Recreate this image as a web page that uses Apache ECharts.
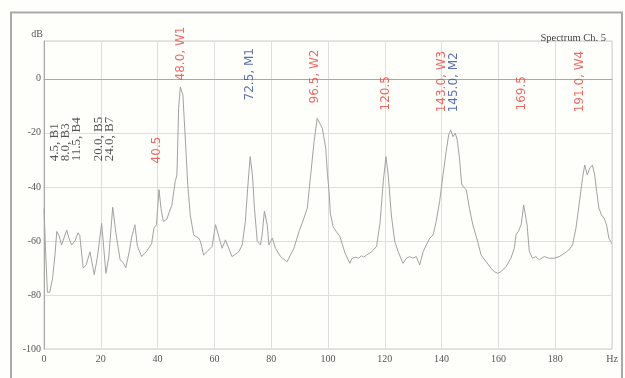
<!DOCTYPE html>
<html>
<head>
<meta charset="utf-8">
<script src="https://cdn.jsdelivr.net/npm/echarts@6/dist/echarts.min.js"></script>
<style>
  html, body { margin: 0; padding: 0; background: #fefefb; }
  #chart { width: 625px; height: 378px; }
</style>
</head>
<body>
<div id="chart"></div>
<script>
// Spectrum trace, channel 5: frequency (Hz) and level (dB)
const freqHz = [
  0, 0.5, 1.2, 2, 3, 3.8, 4.5, 5.3, 6.2, 7, 8, 8.8, 9.7, 10.9, 12, 12.6, 13.8, 14.8, 16.2, 17.7,
  18.8, 20.3, 21.8, 22.8, 24.2, 25.3, 26.8, 27.9, 28.8, 30, 30.9, 32, 32.9, 34.4, 36, 37.9, 38.7, 39.6,
  40.5, 41.2, 42, 43.2, 45, 46.2, 46.8, 47.4, 48, 48.9, 49.8, 50.6, 51.5, 52.7, 54.5, 55.1, 56.2, 57.4,
  59.2, 60.4, 60.9, 62.7, 63.9, 64.5, 66.2, 66.8, 68.6, 69.8, 70.9, 71.8, 72.6, 73.4, 74.1, 75.1, 76.2,
  76.8, 77.6, 78.6, 79.2, 80.4, 81.5, 83.3, 85.6, 86.2, 88, 89.8, 91.5, 92.7, 93.9, 95.1, 96.2, 96.8,
  98, 99.2, 99.8, 100.4, 100.8, 101.8, 102.9, 104.2, 106, 107.7, 108.4, 108.9, 109.8, 110.7, 111.8,
  112.6, 113.6, 115.4, 117.1, 118.3, 119.5, 120.4, 121.2, 122.3, 123.5, 124.7, 126.4, 127.6, 128.8,
  129.9, 131.1, 132.3, 133.5, 134.6, 135.8, 137, 138.1, 139.3, 140.5, 141.6, 142.5, 143.2, 144, 144.8,
  145.5, 146.3, 147.1, 147.8, 148.7, 149.8, 151, 152.7, 153.9, 155.7, 157.4, 158.6, 159.8, 160.9,
  162.7, 164.4, 165.6, 166.2, 167, 168, 168.9, 169.5, 170.1, 170.9, 172, 173.2, 174.4, 176.1, 177.9,
  179.6, 181.4, 183.2, 184.9, 186.1, 187.3, 188.4, 189.6, 190.4, 191.3, 192.2, 193.1, 193.9, 194.6,
  195.4, 196.3, 197.2, 198.1, 198.9, 199.5, 200
];
const levelDb = [
  -48, -62, -79, -79, -74, -66, -56.5, -58, -61.5, -59, -56, -59, -61.5, -60, -57, -58, -70, -69, -64, -72.5,
  -66, -53.5, -72, -66, -47.5, -57, -67, -68, -70, -64, -58.5, -54, -62, -65.8, -64, -61, -55.3, -54,
  -41, -48, -52.8, -52, -46.8, -38, -35.6, -11, -3, -6, -23, -39, -50.4, -57.8, -59, -60.2, -65.2, -64,
  -62, -54, -54.7, -62.7, -59.6, -59, -65.8, -66.4, -64, -61.5, -52.8, -39.3, -28.8, -35.6, -47.9, -60.2, -61.5,
  -57.8, -49, -54, -61.5, -59, -62.7, -65.8, -67.7, -68.3, -62.7, -56.5, -51.6, -47.9, -35.6, -23.2, -14.6, -14,
  -18.3, -25.7, -35, -42, -49.7, -54.7, -56.5, -58.4, -64.5, -68.3, -66.5, -67, -66, -66.4, -65.5,
  -66, -65.2, -64, -62, -53.5, -37.5, -28.8, -35.6, -50.4, -60.2, -64, -68.3, -66.4, -65.8,
  -66.4, -65.8, -68.9, -64, -61.5, -59, -57.8, -52.8, -45.4, -35.6, -26.9, -20.7, -18.9, -21.4, -20.1,
  -22.6, -29.4, -39.3, -39.3, -41.1, -47.9, -54.1, -60.2, -65.2, -67.7, -70.1, -71.4, -72, -71.4,
  -69.5, -66.4, -62.7, -57.8, -56.5, -54.1, -46.7, -47.3, -54.1, -64, -66.4, -65.8, -67, -65.8, -66.4,
  -66.4, -65.8, -64.6, -63.3, -61.5, -55.3, -46.7, -36.8, -31.9, -35.6, -33, -31.9, -35.6, -41.7,
  -47.9, -50.4, -51.6, -54.1, -59, -60.2, -61
];

// Marked components: band lines (B), wave lines (W), mode lines (M)
const bandFreqs = [4.5, 8.0, 11.5, 20.0, 24.0];
const bandNames = ['B1', 'B3', 'B4', 'B5', 'B7'];
const waveFreqs = [40.5, 48.0, 96.5, 120.5, 143.0, 169.5, 191.0];
const waveNames = ['', 'W1', 'W2', '', 'W3', '', 'W4'];
const modeFreqs = [72.5, 145.0];
const modeNames = ['M1', 'M2'];

const chartTitle = 'Spectrum Ch. 5';
const xUnit = 'Hz';
const yUnit = 'dB';

// Label placement (dB level where each vertical label starts, plus a small pixel nudge)
const bandLayout = { baseDb: [-30.5, -30.5, -30.5, -30.5, -30.5], nudge: [-2, -1, 0, -2, -3] };
const waveLayout = { baseDb: [-31.3, -0.6, -9.1, -11.7, -12.4, -11.7, -12.4], nudge: [-2, 1, -3, 0, -8, -4, -7] };
const modeLayout = { baseDb: [-8, -12.4], nudge: [0, -2] };

function labelText(f, name) {
  return f.toFixed(1) + (name ? ', ' + name : '');
}

// Vertical text labels; the offset is in the rotated text frame, so [0, n] moves them sideways
function labelSeries(freqs, names, layout, color, font) {
  return {
    type: 'scatter',
    silent: true,
    symbolSize: 0,
    z: 5,
    data: freqs.map((f, i) => ({
      value: [f, layout.baseDb[i]],
      name: labelText(f, names[i]),
      label: { offset: [0, layout.nudge[i]] }
    })),
    label: {
      show: true,
      position: 'inside',
      rotate: 90,
      align: 'left',
      verticalAlign: 'middle',
      formatter: p => p.name,
      color: color,
      fontFamily: font.family,
      fontSize: font.size
    }
  };
}

const serifAxis = { fontFamily: 'Liberation Serif', fontSize: 10, color: '#555' };

const chart = echarts.init(document.getElementById('chart'), null, { renderer: 'canvas' });
chart.setOption({
  animation: false,
  backgroundColor: '#fefefb',
  title: {
    text: chartTitle,
    right: 14,
    top: 28,
    textStyle: { fontFamily: 'Liberation Serif', fontSize: 10.5, fontWeight: 'normal', color: '#444' }
  },
  graphic: [{
    type: 'rect',
    shape: { x: 11, y: 12.5, width: 611, height: 380 },
    style: { fill: 'none', stroke: '#a9a9a9', lineWidth: 2 },
    silent: true
  }],
  grid: { left: 44, right: 13, top: 41, bottom: 29, show: true, borderColor: '#cfcfcf', borderWidth: 1 },
  xAxis: {
    type: 'value',
    min: 0,
    max: 200,
    interval: 20,
    axisLine: { show: true, lineStyle: { color: '#a8a8a8', width: 1 } },
    axisTick: { show: false },
    axisLabel: {
      ...serifAxis,
      margin: 5,
      formatter: v => (v === 200 ? xUnit : String(v))
    },
    splitLine: { show: true, lineStyle: { color: '#dedede', width: 1 } }
  },
  yAxis: {
    type: 'value',
    min: -100,
    max: 14,
    interval: 20,
    name: yUnit,
    nameLocation: 'end',
    nameGap: 2,
    nameTextStyle: { ...serifAxis, align: 'right', padding: [0, 1, 0, 0] },
    axisLine: { show: true, lineStyle: { color: '#a8a8a8', width: 1 } },
    axisTick: { show: false },
    axisLabel: {
      ...serifAxis,
      margin: 3,
      formatter: v => (v > 0 ? '' : String(v))
    },
    splitLine: { show: true, lineStyle: { color: '#dedede', width: 1 } }
  },
  series: [
    {
      type: 'line',
      data: freqHz.map((f, i) => [f, levelDb[i]]),
      showSymbol: false,
      symbol: 'none',
      lineStyle: { color: '#a2a2a2', width: 1 },
      silent: true,
      z: 3
    },
    labelSeries(bandFreqs, bandNames, bandLayout, '#2a2a2a', { family: 'Liberation Serif', size: 13 }),
    labelSeries(waveFreqs, waveNames, waveLayout, '#e8453c', { family: 'DejaVu Sans', size: 12 }),
    labelSeries(modeFreqs, modeNames, modeLayout, '#2f4d9f', { family: 'DejaVu Sans', size: 12 })
  ]
});
</script>
</body>
</html>
